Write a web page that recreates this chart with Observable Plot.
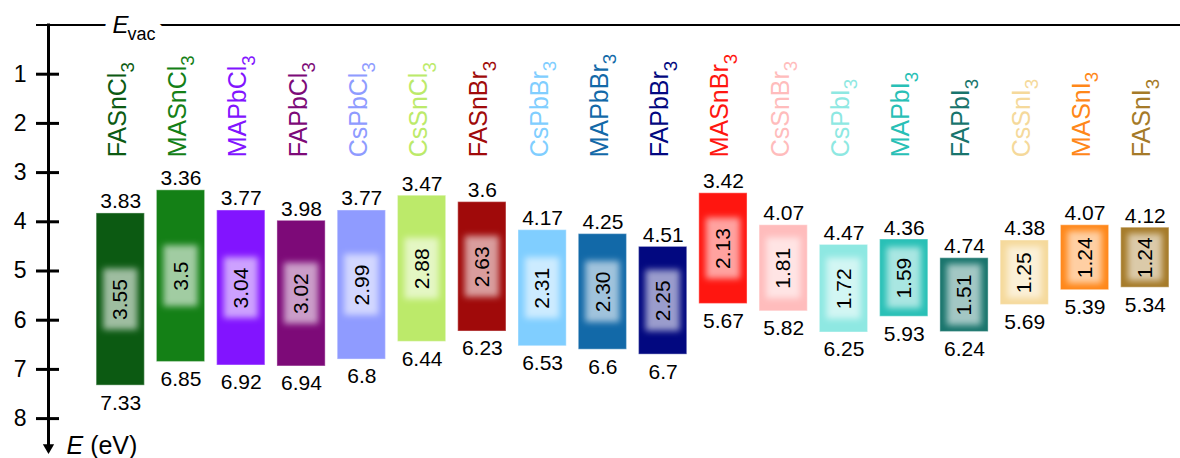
<!DOCTYPE html>
<html>
<head>
<meta charset="utf-8">
<script src="https://cdn.jsdelivr.net/npm/d3@7"></script>
<script src="https://cdn.jsdelivr.net/npm/@observablehq/plot@0.6"></script>
<style>
  html, body { margin: 0; padding: 0; background: #fff; }
  #chart svg { display: block; }
</style>
</head>
<body>
<div id="chart"></div>
<script>
// ---- data ----
const names = ["FASnCl3","MASnCl3","MAPbCl3","FAPbCl3","CsPbCl3","CsSnCl3","FASnBr3","CsPbBr3","MAPbBr3","FAPbBr3","MASnBr3","CsSnBr3","CsPbI3","MAPbI3","FAPbI3","CsSnI3","MASnI3","FASnI3"];
const cbLevels = [3.83, 3.36, 3.77, 3.98, 3.77, 3.47, 3.6, 4.17, 4.25, 4.51, 3.42, 4.07, 4.47, 4.36, 4.74, 4.38, 4.07, 4.12];
const vbLevels = [7.33, 6.85, 6.92, 6.94, 6.8, 6.44, 6.23, 6.53, 6.6, 6.7, 5.67, 5.82, 6.25, 5.93, 6.24, 5.69, 5.39, 5.34];
const gapLabels = ["3.55","3.5","3.04","3.02","2.99","2.88","2.63","2.31","2.30","2.25","2.13","1.81","1.72","1.59","1.51","1.25","1.24","1.24"];
const colors = ["#0c5a12","#148016","#8214ff","#7d0a78","#8f9bff","#bcea6a","#a00a0a","#80ceff","#1269a8","#020880","#ff1610","#ffbcbc","#8ee8e2","#28c0b6","#18746c","#f5d99b","#ff8719","#a57a28"];
const yTicks = [1, 2, 3, 4, 5, 6, 7, 8];

const data = names.map((name, i) => {
  const cb = cbLevels[i], vb = vbLevels[i];
  const mid = (cb + vb) / 2;
  const half = Math.min(0.62, (vb - cb) / 2 - 0.13);
  return {name, cb, vb, gap: gapLabels[i], color: colors[i], mid, g1: mid - half, g2: mid + half};
});

const FONT = "'Liberation Sans', Arial, Helvetica, sans-serif";
const evacOpts = {frameAnchor: "top-left", dx: 53, textAnchor: "start", lineAnchor: "middle", fontSize: 24};

const chart = Plot.plot({
  width: 1180,
  height: 458,
  marginLeft: 59,
  marginRight: 0,
  marginTop: 24.5,
  marginBottom: 3,
  style: {fontFamily: FONT, background: "#fff", color: "#000", overflow: "visible"},
  x: {type: "band", domain: names, paddingInner: 0.2, paddingOuter: 0.4, align: 0.77, round: false, axis: null},
  y: {domain: [0, 8.75], reverse: true, axis: null},
  marks: [
    // vacuum level line
    Plot.ruleY([0], {insetLeft: -23, stroke: "#000", strokeWidth: 2}),
    // energy axis line with arrow head
    Plot.frame({anchor: "left", dx: -11, insetBottom: 8, stroke: "#000", strokeWidth: 3}),
    Plot.dot([0], {frameAnchor: "bottom-left", dx: -11, dy: -8, symbol: "triangle", rotate: 180, r: 4.2, fill: "#000", stroke: null}),
    Plot.axisY(yTicks, {anchor: "left", tickSize: 23, tickPadding: 10, fontSize: 23, strokeWidth: 3, label: null}),
    // bars
    Plot.barY(data, {x: "name", y1: "cb", y2: "vb", fill: "color", stroke: "#fff", strokeOpacity: 0.35, strokeWidth: 1.2}),
    // glow behind gap labels
    Plot.barY(data, {x: "name", y1: "g1", y2: "g2", insetLeft: 7, insetRight: 7, fill: "#fff", fillOpacity: 0.6, ariaDescription: "glow"}),
    // gap labels
    Plot.text(data, {x: "name", y: "mid", text: "gap", rotate: -90, fontSize: 21, fill: "#000"}),
    // CB / VB labels
    Plot.text(data, {x: "name", y: "cb", text: d => String(d.cb), lineAnchor: "bottom", dy: -5, fontSize: 21, fill: "#000"}),
    Plot.text(data, {x: "name", y: "vb", text: d => String(d.vb), lineAnchor: "top", dy: 9, fontSize: 21, fill: "#000"}),
    // compound names
    Plot.text(data, {x: "name", y: 2.69, text: "name", rotate: -90, textAnchor: "start", lineAnchor: "middle", dx: -3, fontSize: 25, fill: "color", ariaDescription: "compound"}),
    // E_vac label: white halo breaking the line, then the text itself
    Plot.text(["Evac"], {...evacOpts, fill: "#fff", stroke: "#fff", strokeWidth: 18, ariaDescription: "evac"}),
    Plot.text(["Evac"], {...evacOpts, fill: "#000", ariaDescription: "evac"}),
    // E (eV) label
    Plot.text(["E (eV)"], {frameAnchor: "bottom-left", dx: 7, dy: -2, textAnchor: "start", lineAnchor: "bottom", fontSize: 25, fill: "#000", ariaDescription: "elabel"})
  ]
});

document.getElementById("chart").appendChild(chart);

// ---- post-processing: blur filter, subscripts, italics ----
const svg = d3.select(chart);
const defs = svg.insert("defs", ":first-child");
defs.append("filter").attr("id", "glowblur")
  .attr("x", "-20%").attr("y", "-20%").attr("width", "140%").attr("height", "140%")
  .append("feGaussianBlur").attr("stdDeviation", 3.2);
svg.select('g[aria-description="glow"]').attr("filter", "url(#glowblur)");

svg.selectAll('g[aria-description="compound"] text').each(function() {
  const s = this.textContent;
  const t = d3.select(this);
  t.text(null);
  t.append("tspan").text(s.slice(0, -1));
  t.append("tspan").attr("font-size", "0.75em").attr("dy", "0.45em").text(s.slice(-1));
});

svg.selectAll('g[aria-description="evac"] text').each(function() {
  const t = d3.select(this);
  t.text(null);
  t.append("tspan").attr("font-style", "italic").text("E");
  t.append("tspan").attr("font-size", "0.75em").attr("dy", "0.4em").attr("dx", "-0.05em").text("vac");
});

svg.selectAll('g[aria-description="elabel"] text').each(function() {
  const t = d3.select(this);
  t.text(null);
  t.append("tspan").attr("font-style", "italic").text("E");
  t.append("tspan").text(" (eV)");
});
</script>
</body>
</html>
